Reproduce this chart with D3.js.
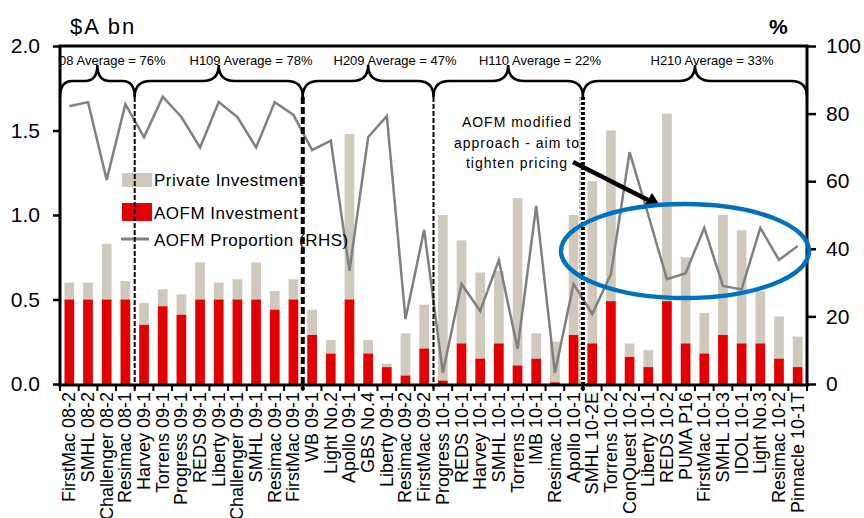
<!DOCTYPE html>
<html>
<head>
<meta charset="utf-8">
<script src="https://cdn.jsdelivr.net/npm/d3@7"></script>
<style>
    body { margin: 0; background: #fff; }
    svg { font-family: Arial, "Liberation Sans", sans-serif; }
</style>
</head>
<body>
<div id="chart"></div>
<script>
// Deals, in issue order
const categories = [
    'FirstMac 08-2', 'SMHL 08-2', 'Challenger 08-2', 'Resimac 08-1',
    'Harvey 09-1', 'Torrens 09-1', 'Progress 09-1', 'REDS 09-1', 'Liberty 09-1',
    'Challenger 09-1', 'SMHL 09-1', 'Resimac 09-1', 'FirstMac 09-1',
    'WB 09-1', 'Light No.2', 'Apollo 09-1', 'GBS No.4', 'Liberty 09-1 ',
    'Resimac 09-2', 'FirstMac 09-2',
    'Progress 10-1', 'REDS 10-1', 'Harvey 10-1', 'SMHL 10-1', 'Torrens 10-1',
    'IMB 10-1', 'Resimac 10-1', 'Apollo 10-1',
    'SMHL 10-2E', 'Torrens 10-2', 'ConQuest 10-2', 'Liberty 10-1', 'REDS 10-2',
    'PUMA P16', 'FirstMac 10-1', 'SMHL 10-3', 'IDOL 10-1', 'Light No.3',
    'Resimac 10-2', 'Pinnacle 10-1T'
];

// $A bn
const aofmInvestment = [
    0.50, 0.50, 0.50, 0.50,
    0.35, 0.46, 0.41, 0.50, 0.50, 0.50, 0.50, 0.44, 0.50,
    0.29, 0.18, 0.50, 0.18, 0.10, 0.05, 0.21,
    0.02, 0.24, 0.15, 0.24, 0.11, 0.15, 0.01, 0.29,
    0.24, 0.49, 0.16, 0.10, 0.49, 0.24, 0.18, 0.29, 0.24, 0.24, 0.15, 0.10
];
const privateInvestment = [
    0.10, 0.10, 0.33, 0.11,
    0.13, 0.10, 0.12, 0.22, 0.10, 0.12, 0.22, 0.11, 0.12,
    0.15, 0.08, 0.98, 0.08, 0.02, 0.25, 0.26,
    0.98, 0.61, 0.51, 0.43, 0.99, 0.15, 0.24, 0.71,
    0.96, 1.01, 0.08, 0.10, 1.11, 0.51, 0.24, 0.71, 0.67, 0.31, 0.25, 0.18
];
// % (RHS)
const aofmProportion = [
    82.2, 83.4, 60.4, 82.8,
    73.0, 85.0, 79.0, 70.0, 83.4, 79.0, 70.0, 83.4, 79.6,
    69.2, 72.0, 33.5, 73.0, 79.3, 19.2, 45.6,
    3.3, 29.6, 21.6, 36.7, 10.4, 52.7, 3.3, 29.6,
    20.7, 32.5, 68.6, 50.0, 31.0, 32.8, 46.2, 29.0, 28.0, 46.2, 36.7, 40.8
];

// Half-year groups: first deal index, last deal index, label
const groupStart = [0, 4, 13, 20, 28];
const groupEnd = [3, 12, 19, 27, 39];
const groupLabels = ['H208 Average = 76%', 'H109 Average = 78%', 'H209 Average = 47%',
    'H110 Average = 22%', 'H210 Average = 33%'];

const leftTicks = [0, 0.5, 1.0, 1.5, 2.0];
const rightTicks = [0, 20, 40, 60, 80, 100];

const colors = {
    aofm: '#E30000',
    priv: '#D0C9BB',
    line: '#808080',
    ring: '#0070C0'
};

const width = 864, height = 518;
const plotL = 60, plotR = 807, plotT = 46, plotB = 384;

const svg = d3.select('#chart').append('svg')
    .attr('width', width)
    .attr('height', height);

const x = d3.scaleBand().domain(categories).range([plotL, plotR]).padding(0);
const y = d3.scaleLinear().domain([0, 2]).range([plotB, plotT]);
const y2 = d3.scaleLinear().domain([0, 100]).range([plotB, plotT]);
const barW = x.bandwidth() * 0.52;
const barX = d => x(d) + (x.bandwidth() - barW) / 2;
const cx = d => x(d) + x.bandwidth() / 2;

// Bars
const rows = categories.map((c, i) => ({ c, a: aofmInvestment[i], p: privateInvestment[i] }));
svg.append('g').selectAll('rect')
    .data(rows).join('rect')
    .attr('x', d => barX(d.c))
    .attr('width', barW)
    .attr('y', d => y(d.a + d.p))
    .attr('height', d => y(d.a) - y(d.a + d.p))
    .attr('fill', colors.priv);
svg.append('g').selectAll('rect')
    .data(rows).join('rect')
    .attr('x', d => barX(d.c))
    .attr('width', barW)
    .attr('y', d => y(d.a))
    .attr('height', d => y(0) - y(d.a))
    .attr('fill', colors.aofm);

// Proportion line
const line = d3.line()
    .x((d, i) => cx(categories[i]))
    .y(d => y2(d));
svg.append('path')
    .datum(aofmProportion)
    .attr('d', line)
    .attr('fill', 'none')
    .attr('stroke', colors.line)
    .attr('stroke-width', 2.5);

// Legend
const legend = svg.append('g').attr('font-size', 17).attr('letter-spacing', 0.5).attr('fill', '#000');
legend.append('rect').attr('x', 122).attr('y', 173).attr('width', 30).attr('height', 14).attr('fill', colors.priv);
legend.append('rect').attr('x', 122).attr('y', 203).attr('width', 30).attr('height', 18).attr('fill', colors.aofm);
legend.append('line').attr('x1', 121).attr('x2', 149).attr('y1', 239).attr('y2', 239)
    .attr('stroke', colors.line).attr('stroke-width', 3);
legend.append('text').attr('x', 154).attr('y', 186).text('Private Investment');
legend.append('text').attr('x', 154).attr('y', 219).text('AOFM Investment');
legend.append('text').attr('x', 154).attr('y', 246).text('AOFM Proportion (RHS)');

// Group separators
const sepStyle = [
    null,
    { w: 2, dash: '5,2' },
    { w: 4, dash: '7,3' },
    { w: 2, dash: '5,2' },
    { w: 4, dash: '3,2' }
];
groupStart.forEach((s, i) => {
    if (i === 0) return;
    const sx = x(categories[s]);
    if (i === 4) {
        svg.append('line')
            .attr('x1', sx - 3).attr('x2', sx - 3).attr('y1', 97).attr('y2', plotB)
            .attr('stroke', '#999').attr('stroke-width', 1).attr('stroke-dasharray', '4,2');
    }
    svg.append('line')
        .attr('x1', sx).attr('x2', sx).attr('y1', 97).attr('y2', plotB + 6)
        .attr('stroke', '#000')
        .attr('stroke-width', sepStyle[i].w)
        .attr('stroke-dasharray', sepStyle[i].dash);
});

// Braces
const yEnd = 97, yMid = 81, yTip = 65;
function brace(x0, x1) {
    const xm = (x0 + x1) / 2;
    const r = Math.min(16, (xm - x0) / 3);
    return 'M' + x0 + ',' + yEnd +
        ' Q' + x0 + ',' + yMid + ' ' + (x0 + r) + ',' + yMid +
        ' L' + (xm - r) + ',' + yMid +
        ' Q' + xm + ',' + yMid + ' ' + xm + ',' + yTip +
        ' Q' + xm + ',' + yMid + ' ' + (xm + r) + ',' + yMid +
        ' L' + (x1 - r) + ',' + yMid +
        ' Q' + x1 + ',' + yMid + ' ' + x1 + ',' + yEnd;
}
const braceG = svg.append('g');
groupStart.forEach((s, i) => {
    const x0 = x(categories[s]);
    const x1 = x(categories[groupEnd[i]]) + x.bandwidth();
    braceG.append('path')
        .attr('d', brace(x0, x1))
        .attr('fill', 'none')
        .attr('stroke', '#000')
        .attr('stroke-width', 2.5);
});

// Group average labels (first one runs off the plot edge)
svg.append('clipPath').attr('id', 'plot-clip')
    .append('rect').attr('x', plotL + 1).attr('y', 0).attr('width', plotR - plotL).attr('height', plotB);
const labelCenters = [104, 251, 395, 540, 712];
svg.append('g')
    .attr('clip-path', 'url(#plot-clip)')
    .selectAll('text')
    .data(groupLabels).join('text')
    .attr('x', (d, i) => labelCenters[i])
    .attr('y', 65)
    .attr('text-anchor', 'middle')
    .attr('font-size', 13)
    .text(d => d);

// Axes
const axisL = svg.append('g')
    .attr('transform', 'translate(' + plotL + ',0)')
    .call(d3.axisLeft(y).tickValues(leftTicks).tickFormat(d3.format('.1f')).tickSize(7).tickPadding(13));
const axisR = svg.append('g')
    .attr('transform', 'translate(' + plotR + ',0)')
    .call(d3.axisRight(y2).tickValues(rightTicks).tickSize(9).tickPadding(10));
[axisL, axisR].forEach(a => {
    a.select('.domain').remove();
    a.selectAll('.tick line').attr('stroke-width', 2.5);
    a.selectAll('.tick text').attr('font-size', 21).attr('font-family', 'Arial, "Liberation Sans", sans-serif').attr('fill', '#000');
});

// Frame: left, right, top, bottom
svg.append('path')
    .attr('d', 'M' + plotL + ',' + (plotB + 1) + 'V' + plotT + 'H' + plotR + 'V' + (plotB + 1))
    .attr('fill', 'none').attr('stroke', '#000').attr('stroke-width', 3);
svg.append('line')
    .attr('x1', plotL - 2).attr('x2', plotR + 2).attr('y1', plotB + 1).attr('y2', plotB + 1)
    .attr('stroke', '#000').attr('stroke-width', 3);

// Category ticks at band boundaries
svg.append('g').selectAll('line')
    .data(categories.concat(['end'])).join('line')
    .attr('x1', (d, i) => i < categories.length ? x(d) : plotR)
    .attr('x2', (d, i) => i < categories.length ? x(d) : plotR)
    .attr('y1', plotB)
    .attr('y2', plotB + 7)
    .attr('stroke', '#000')
    .attr('stroke-width', 2);

// Category labels
svg.append('g').selectAll('text')
    .data(categories).join('text')
    .attr('transform', d => 'translate(' + (cx(d) + 6) + ',' + (plotB + 8) + ') rotate(-90)')
    .attr('text-anchor', 'end')
    .attr('font-size', 18)
    .text(d => d.trim());

// Axis titles
svg.append('text').attr('x', 70).attr('y', 34).attr('font-size', 22).attr('letter-spacing', 2).text('$A bn');
svg.append('text').attr('x', 769).attr('y', 34).attr('font-size', 21).attr('font-weight', 'bold').text('%');

// Annotation
const note = svg.append('g').attr('font-size', 14).attr('letter-spacing', 1).attr('text-anchor', 'middle');
['AOFM modified', 'approach - aim to', 'tighten pricing'].forEach((t, i) => {
    note.append('text').attr('x', 517).attr('y', 127 + i * 20.5).text(t);
});
svg.append('line')
    .attr('x1', 573).attr('y1', 162).attr('x2', 650).attr('y2', 201)
    .attr('stroke', '#000').attr('stroke-width', 4.5);
svg.append('path')
    .attr('d', 'M661,207 L644,206 L652,193 Z')
    .attr('fill', '#000');

// Highlight ring
svg.append('ellipse')
    .attr('cx', 685).attr('cy', 251).attr('rx', 124).attr('ry', 47)
    .attr('fill', 'none')
    .attr('stroke', colors.ring)
    .attr('stroke-width', 4.5);
</script>
</body>
</html>
